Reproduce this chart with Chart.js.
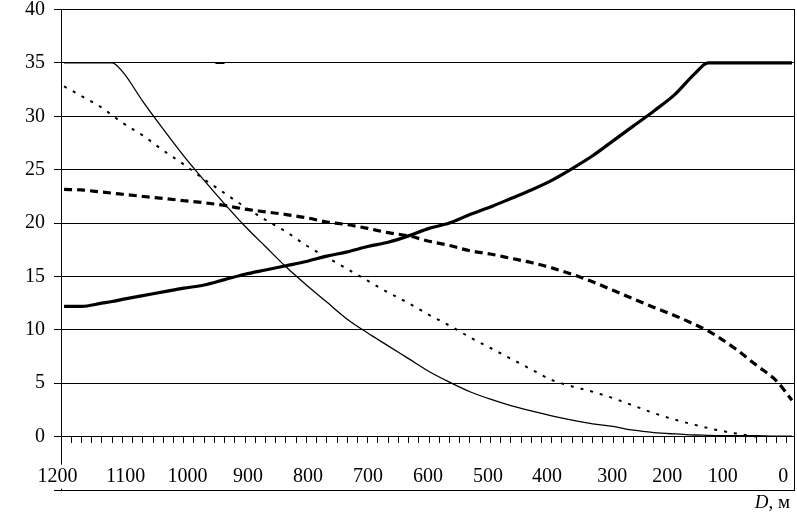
<!DOCTYPE html>
<html>
<head>
<meta charset="utf-8">
<script src="https://cdn.jsdelivr.net/npm/chart.js@4.4.1/dist/chart.umd.min.js"></script>
<style>
  html, body { margin: 0; padding: 0; background: #ffffff; }
  #wrap { width: 797px; height: 513px; }
</style>
</head>
<body>
<div id="wrap"><canvas id="c" width="797" height="513"></canvas></div>
<script>
// sample positions along the horizontal (category) axis, in tick units
const samplePos = [0.3, 2, 4, 5, 6, 8, 10, 12, 14, 16, 18, 20, 22, 24, 26, 28, 30, 32, 34, 36, 38, 40, 42, 44, 46, 48, 50, 52, 54, 56, 58, 60, 62, 63.3, 64, 66, 68, 70, 71.5];

// thin solid line
const seriesThin = [35, 35, 35, 35, 34.2, 31.4, 28.8, 26.3, 24.0, 21.8, 19.7, 17.8, 15.9, 14.2, 12.6, 11.0, 9.7, 8.5, 7.3, 6.1, 5.1, 4.2, 3.5, 2.9, 2.4, 1.95, 1.55, 1.2, 0.95, 0.6, 0.38, 0.25, 0.15, 0.12, 0.1, 0.1, 0.08, 0.05, 0.05];
// thin dotted line
const seriesDotted = [32.8, 31.9, 30.8, 30.1, 29.4, 28.2, 26.8, 25.5, 24.1, 22.8, 21.5, 20.3, 19.2, 17.9, 16.8, 15.7, 14.6, 13.5, 12.5, 11.4, 10.4, 9.3, 8.3, 7.3, 6.3, 5.3, 4.7, 4.2, 3.6, 2.9, 2.2, 1.6, 1.1, 0.8, 0.65, 0.3, 0.0, null, null];
// thick dashed line
const seriesDashed = [23.15, 23.1, 22.9, 22.8, 22.7, 22.5, 22.3, 22.1, 21.9, 21.65, 21.3, 21.05, 20.8, 20.5, 20.1, 19.85, 19.5, 19.1, 18.8, 18.3, 17.9, 17.4, 17.1, 16.7, 16.3, 15.8, 15.2, 14.5, 13.7, 12.9, 12.1, 11.35, 10.5, 9.9, 9.5, 8.2, 6.7, 5.2, 3.4];
// thick solid line
const seriesThick = [12.2, 12.2, 12.5, 12.65, 12.85, 13.2, 13.55, 13.9, 14.2, 14.7, 15.2, 15.6, 16.0, 16.4, 16.9, 17.3, 17.8, 18.2, 18.8, 19.5, 20.0, 20.8, 21.5, 22.3, 23.1, 24.0, 25.1, 26.3, 27.7, 29.1, 30.5, 32.0, 34.0, 35, 35, 35, 35, 35, 35];

// short stray segment at 35 seen in the original
const strayPos = [15.1, 16.0];
const strayVal = [35, 35];

// distance labels (D, m) and where they sit on the category axis (tick units)
const dLabels = ['1200', '1100', '1000', '900', '800', '700', '600', '500', '400', '300', '200', '100', '0'];
const dLabelPos = [-0.34, 6.31, 12.38, 18.3, 24.17, 30.04, 35.91, 41.78, 47.55, 53.91, 59.3, 64.73, 70.65];

const yTicks = [-5, 0, 5, 10, 15, 20, 25, 30, 35, 40];
const axisMax = 71.7;
const tickCount = 71;

const toPoints = (pos, vals) => pos.map((p, i) => ({ x: p, y: vals[i] }));

const serif = '"Liberation Serif", "Times New Roman", serif';
const yFont = { family: serif, size: 20, lineHeight: 1 };
const xFont = { family: serif, size: 20, lineHeight: 1 };

const noPad = (s) => { s.paddingLeft = 0; s.paddingRight = 0; s.paddingTop = 0; s.paddingBottom = 0; };

const axisTitle = {
  id: 'axisTitle',
  afterDraw(chart) {
    const ctx = chart.ctx;
    const a = chart.chartArea;
    ctx.save();
    ctx.fillStyle = '#000';
    ctx.textBaseline = 'alphabetic';
    ctx.textAlign = 'left';
    const italic = 'italic 19px ' + serif;
    const normal = '19px ' + serif;
    ctx.font = italic;
    const w1 = ctx.measureText('D').width;
    ctx.font = normal;
    const w2 = ctx.measureText(', м').width;
    const x0 = a.right - 4 - (w1 + w2);
    const y0 = a.bottom + 18;
    ctx.font = italic;
    ctx.fillText('D', x0, y0);
    ctx.font = normal;
    ctx.fillText(', м', x0 + w1, y0);
    ctx.restore();
  }
};

const line = (pos, vals, extra) => Object.assign({
  data: toPoints(pos, vals), borderColor: '#000', pointRadius: 0,
  cubicInterpolationMode: 'monotone', xAxisID: 'x', yAxisID: 'y'
}, extra);

new Chart(document.getElementById('c'), {
  type: 'line',
  data: {
    datasets: [
      line(samplePos, seriesThin, { borderWidth: 1.3 }),
      line(samplePos, seriesDotted, { borderWidth: 2, borderDash: [3, 7] }),
      line(samplePos, seriesDashed, { borderWidth: 3.2, borderDash: [8, 5] }),
      line(samplePos, seriesThick, { borderWidth: 3.2 }),
      line(strayPos, strayVal, { borderWidth: 2 })
    ]
  },
  options: {
    responsive: false,
    animation: false,
    devicePixelRatio: 1,
    layout: { padding: { left: 0, right: 3, top: 9.5, bottom: 23 } },
    plugins: { legend: { display: false }, tooltip: { enabled: false } },
    scales: {
      y: {
        type: 'linear', position: 'left', min: -5, max: 40,
        afterBuildTicks: (s) => { s.ticks = yTicks.map(v => ({ value: v })); },
        afterFit: (s) => { s.width = 61; noPad(s); },
        ticks: { color: '#000', font: yFont, padding: 9, callback: (v) => (v < 0 ? '' : String(v)) },
        grid: { color: '#000', lineWidth: 1, tickLength: 7, drawTicks: true },
        border: { color: '#000', width: 1 }
      },
      yR: {
        type: 'linear', position: 'right', min: -5, max: 40,
        afterFit: (s) => { s.width = 0; noPad(s); },
        ticks: { display: false },
        grid: { display: false },
        border: { display: true, color: '#000', width: 1 }
      },
      xb: {
        type: 'linear', position: 'bottom', min: 0, max: axisMax,
        afterFit: (s) => { s.height = 0; noPad(s); },
        ticks: { display: false },
        grid: { display: false },
        border: { display: true, color: '#000', width: 1 }
      },
      x: {
        type: 'linear', position: { y: 0 }, min: 0, max: axisMax,
        afterBuildTicks: (s) => { const t = []; for (let i = 0; i <= tickCount; i++) t.push({ value: i }); s.ticks = t; },
        afterFit: noPad,
        ticks: { display: false, autoSkip: false },
        grid: { drawOnChartArea: false, drawTicks: true, tickLength: 6, color: '#000', lineWidth: 1 },
        border: { color: '#000', width: 1 }
      },
      xl: {
        type: 'linear', position: { y: 0 }, min: 0, max: axisMax,
        afterBuildTicks: (s) => { s.ticks = dLabelPos.map(v => ({ value: v })); },
        afterFit: noPad,
        ticks: {
          color: '#000', font: xFont, padding: 22, autoSkip: false, maxRotation: 0, minRotation: 0, z: 1,
          showLabelBackdrop: true, backdropColor: '#ffffff', backdropPadding: { x: 0, y: 2 },
          callback: (v, i) => dLabels[i]
        },
        grid: { display: false },
        border: { display: false }
      }
    }
  },
  plugins: [axisTitle]
});
</script>
</body>
</html>
